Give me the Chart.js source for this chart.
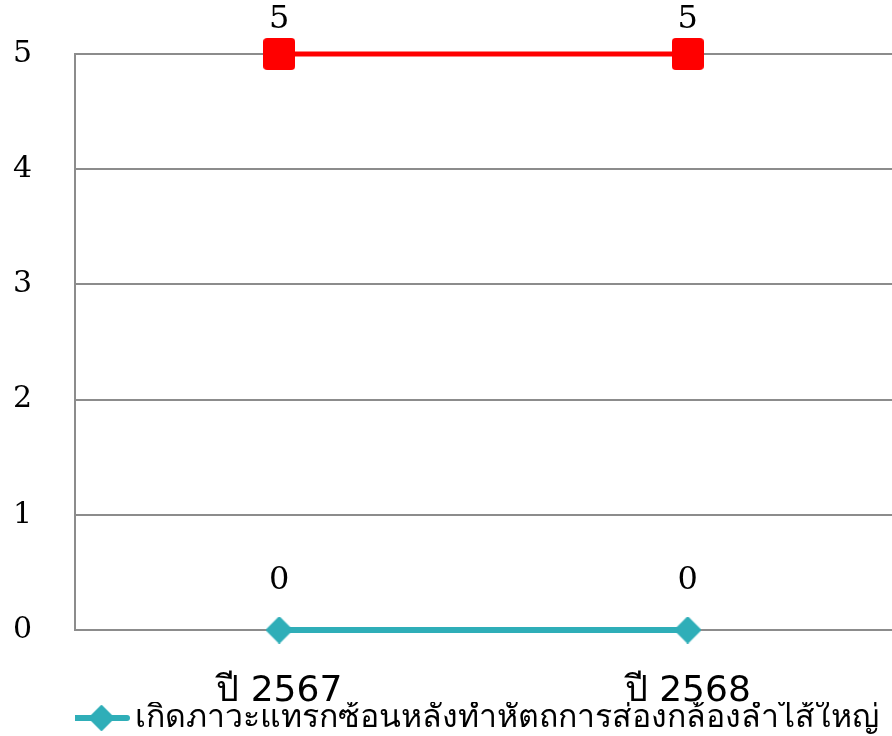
<!DOCTYPE html>
<html>
<head>
<meta charset="utf-8">
<script src="https://cdn.jsdelivr.net/npm/chart.js@4"></script>
<style>
  html, body { margin: 0; padding: 0; background: #fff; overflow: hidden; }
  #wrap { width: 892px; height: 736px; }
  canvas { display: block; }
</style>
</head>
<body>
<div id="wrap"><canvas id="chart"></canvas></div>
<script>
(function() {
  'use strict';

  // Data
  const categories = ['ปี 2567', 'ปี 2568'];
  const seriesNames = ['เกิดภาวะแทรกซ้อนหลังทำหัตถการส่องกล้องลำไส้ใหญ่', 'จำนวนผู้ป่วย'];
  const complicationValues = [0, 0];
  const totalValues = [5, 5];
  const yTicks = [0, 1, 2, 3, 4, 5];

  const TEAL = '#2FAEB8';
  const RED = '#FF0000';
  const GRID = '#8C8C8C';

  // marker images
  function squareMarker(size, color) {
    const c = document.createElement('canvas');
    c.width = size; c.height = size;
    const g = c.getContext('2d');
    g.fillStyle = color;
    g.beginPath(); g.roundRect(0, 0, size, size, 4); g.fill();
    return c;
  }
  function diamondMarker(size, color) {
    const c = document.createElement('canvas');
    c.width = size; c.height = size;
    const g = c.getContext('2d');
    const h = size / 2;
    g.fillStyle = color;
    g.strokeStyle = color; g.lineJoin = 'round'; g.lineWidth = 2;
    g.beginPath(); g.moveTo(h, 1); g.lineTo(size - 1, h); g.lineTo(h, size - 1); g.lineTo(1, h); g.closePath();
    g.fill(); g.stroke();
    return c;
  }
  // legend marker: line with a diamond
  function legendIcon() {
    const c = document.createElement('canvas');
    c.width = 66; c.height = 30;
    const g = c.getContext('2d');
    g.strokeStyle = TEAL; g.lineWidth = 6; g.lineCap = 'round';
    g.beginPath(); g.moveTo(10, 15); g.lineTo(63, 15); g.stroke();
    g.drawImage(diamondMarker(26, TEAL), 37.5 - 13, 2);
    return c;
  }

  // simple value labels above points
  const valueLabels = {
    id: 'valueLabels',
    afterDatasetsDraw(chart) {
      const ctx = chart.ctx;
      ctx.save();
      ctx.font = '32px "DejaVu Serif", serif';
      ctx.fillStyle = '#000';
      ctx.textAlign = 'center';
      ctx.textBaseline = 'middle';
      chart.data.datasets.forEach((ds, i) => {
        const meta = chart.getDatasetMeta(i);
        meta.data.forEach((pt, j) => {
          ctx.fillText(String(ds.data[j]), pt.x, pt.y - ds.labelOffset);
        });
      });
      ctx.restore();
    }
  };

  new Chart(document.getElementById('chart'), {
    type: 'line',
    data: {
      labels: categories,
      datasets: [
        {
          label: seriesNames[0],
          data: complicationValues,
          borderColor: TEAL,
          backgroundColor: TEAL,
          borderWidth: 6,
          pointStyle: diamondMarker(27, TEAL),
          labelOffset: 49
        },
        {
          label: seriesNames[1],
          data: totalValues,
          borderColor: RED,
          backgroundColor: RED,
          borderWidth: 5,
          pointStyle: squareMarker(32, RED),
          labelOffset: 34
        }
      ]
    },
    options: {
      responsive: true,
      maintainAspectRatio: false,
      animation: false,
      datasets: { line: { clip: false } },
      layout: { autoPadding: false, padding: { top: 0, right: 0, left: 0, bottom: -8 } },
      scales: {
        x: {
          offset: true,
          afterFit: axis => { axis.height = 72; },
          grid: { display: false, drawTicks: false },
          border: { display: false },
          ticks: {
            color: '#000',
            padding: 40,
            font: { family: '"DejaVu Sans", sans-serif', size: 36 }
          }
        },
        y: {
          min: 0,
          max: 5,
          afterFit: axis => { axis.width = 75; },
          afterBuildTicks: axis => { axis.ticks = yTicks.map(v => ({ value: v })); },
          grid: { color: GRID, lineWidth: 2, drawTicks: false },
          border: { display: true, color: GRID, width: 2 },
          ticks: {
            color: '#000',
            padding: 43,
            font: { family: '"DejaVu Serif", serif', size: 30, lineHeight: 0.73 }
          }
        }
      },
      plugins: {
        tooltip: { enabled: false },
        legend: {
          position: 'bottom',
          align: 'start',
          fullSize: false,
          labels: {
            usePointStyle: true,
            pointStyleWidth: 44,
            color: '#000',
            font: { family: '"Noto Sans", sans-serif', size: 32 },
            padding: 0,
            filter: item => item.datasetIndex === 0,
            generateLabels: chart => chart.data.datasets.map((ds, i) => ({
              text: ds.label,
              datasetIndex: i,
              pointStyle: legendIcon(),
              fillStyle: TEAL,
              strokeStyle: TEAL,
              lineWidth: 0,
              fontColor: '#000'
            }))
          }
        }
      }
    },
    plugins: [valueLabels]
  });
})();
</script>
</body>
</html>
